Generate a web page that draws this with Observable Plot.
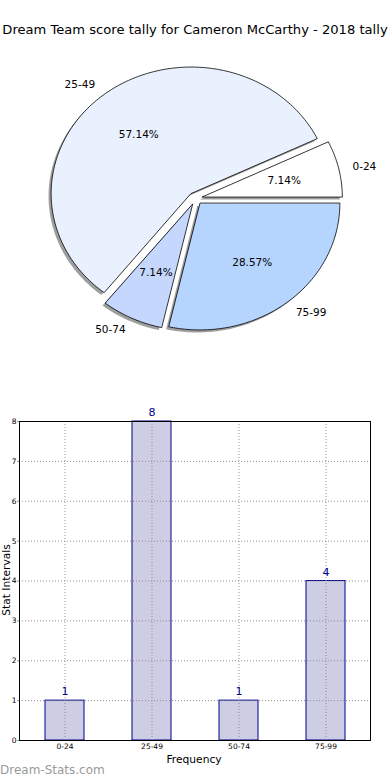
<!DOCTYPE html>
<html><head><meta charset="utf-8">
<script src="https://cdn.jsdelivr.net/npm/d3@7"></script>
<script src="https://cdn.jsdelivr.net/npm/@observablehq/plot@0.6"></script>
<style>
body{margin:0;background:#fff;font-family:"DejaVu Sans",sans-serif;}
#wrap{position:relative;width:390px;height:780px;overflow:hidden;background:#fff;}
#title{position:absolute;left:0;top:21px;width:390px;text-align:center;font-size:13.1px;line-height:18px;white-space:nowrap;color:#000;}
#pie{position:absolute;left:0;top:40px;}
#bar{position:absolute;left:0;top:400px;}
#ylab{position:absolute;left:-43px;top:573px;width:100px;text-align:center;font-size:10.7px;line-height:14px;transform:rotate(-90deg);white-space:nowrap;}
#xlab{position:absolute;left:144px;top:752px;width:100px;text-align:center;font-size:10.7px;line-height:16px;}
#wm{position:absolute;left:0;top:762px;font-size:12px;line-height:16px;color:#9a9a9a;white-space:nowrap;}
svg text{font-family:"DejaVu Sans",sans-serif;}
</style></head>
<body><div id="wrap">
<div id="title">Dream Team score tally for Cameron McCarthy - 2018 tally</div>
<div id="pie"></div>
<div id="bar"></div>
<div id="ylab">Stat Intervals</div>
<div id="xlab">Frequency</div>
<div id="wm">Dream-Stats.com</div>
</div>
<script>
const categories = ["0-24", "25-49", "50-74", "75-99"];
const counts = [1, 8, 1, 4];
const pieColors = ["#ffffff", "#eaf1fe", "#c6d7fe", "#b5d4fe"];
const explode = [0.05, 0.05, 0.05, 0.05];
const yTicks = [0, 1, 2, 3, 4, 5, 6, 7, 8];

// ---- Pie ----
const total = d3.sum(counts);
let cum = 0;
const slices = categories.map((cat, i) => {
  const a0 = cum / total * 2 * Math.PI; cum += counts[i];
  const a1 = cum / total * 2 * Math.PI;
  const mid = (a0 + a1) / 2;
  const ox = explode[i] * Math.cos(mid), oy = explode[i] * Math.sin(mid);
  const n = Math.max(2, Math.ceil((a1 - a0) / (Math.PI / 180)));
  const pts = [{x: ox, y: oy}];
  for (let k = 0; k <= n; k++) {
    const t = a0 + (a1 - a0) * k / n;
    pts.push({x: ox + Math.cos(t), y: oy + Math.sin(t)});
  }
  return {cat, i, mid, ox, oy, pts,
    lx: ox + 1.1 * Math.cos(mid), ly: oy + 1.1 * Math.sin(mid),
    px: ox + 0.6 * Math.cos(mid), py: oy + 0.6 * Math.sin(mid),
    pct: (counts[i] / total * 100).toFixed(2) + "%"};
});

const PW = 390, PH = 360, cx = 195, cy = 158, rx = 140, ry = 126.5;
const pieMarks = [];
slices.forEach(s => {
  pieMarks.push(Plot.line(s.pts, {x: "x", y: "y", curve: "linear-closed", fill: "rgba(40,40,40,0.45)", stroke: "none", dx: -2.6, dy: 2.5}));
  pieMarks.push(Plot.line(s.pts, {x: "x", y: "y", curve: "linear-closed", fill: pieColors[s.i], stroke: "#000", strokeWidth: 0.8}));
});
pieMarks.push(Plot.text(slices.filter(s => s.lx > 0), {x: "lx", y: "ly", text: "cat", textAnchor: "start", fontSize: 10.5, fill: "#000"}));
pieMarks.push(Plot.text(slices.filter(s => s.lx <= 0), {x: "lx", y: "ly", text: "cat", textAnchor: "end", fontSize: 10.5, fill: "#000"}));
pieMarks.push(Plot.text(slices, {x: "px", y: "py", text: "pct", textAnchor: "middle", fontSize: 10.5, fill: "#000"}));

const pie = Plot.plot({
  width: PW, height: PH, margin: 0,
  x: {domain: [-cx / rx, (PW - cx) / rx], axis: null},
  y: {domain: [-(PH - cy) / ry, cy / ry], axis: null},
  style: {background: "transparent", overflow: "visible"},
  marks: pieMarks
});
document.getElementById("pie").append(pie);

// ---- Bars ----
const barData = categories.map((c, i) => ({cat: c, count: counts[i]}));
const bar = Plot.plot({
  width: 390, height: 380,
  marginLeft: 19, marginRight: 20, marginTop: 21, marginBottom: 40,
  x: {domain: categories, paddingInner: 0.556, paddingOuter: 0.278, label: null},
  y: {domain: [0, 8], label: null},
  style: {background: "transparent", overflow: "visible"},
  marks: [
    Plot.barY(barData, {x: "cat", y: "count", fill: "#cdcde4", stroke: "#00008b", strokeWidth: 1}),
    Plot.gridY(yTicks, {stroke: "#888", strokeOpacity: 0.9, strokeDasharray: "1,2"}),
    Plot.gridX({stroke: "#888", strokeOpacity: 0.9, strokeDasharray: "1,2"}),
    Plot.frame({stroke: "#000", strokeWidth: 1}),
    Plot.axisY(yTicks, {tickSize: 2, tickPadding: 1, fontSize: 7.5, stroke: "#999", fill: "#000", label: null}),
    Plot.axisX({tickSize: 0, tickPadding: 3, fontSize: 7.5, fill: "#000", label: null}),
    Plot.text(barData, {x: "cat", y: "count", text: d => String(d.count), dy: -9, fill: "#00008b", fontSize: 11})
  ]
});
document.getElementById("bar").append(bar);
</script>
</body></html>
